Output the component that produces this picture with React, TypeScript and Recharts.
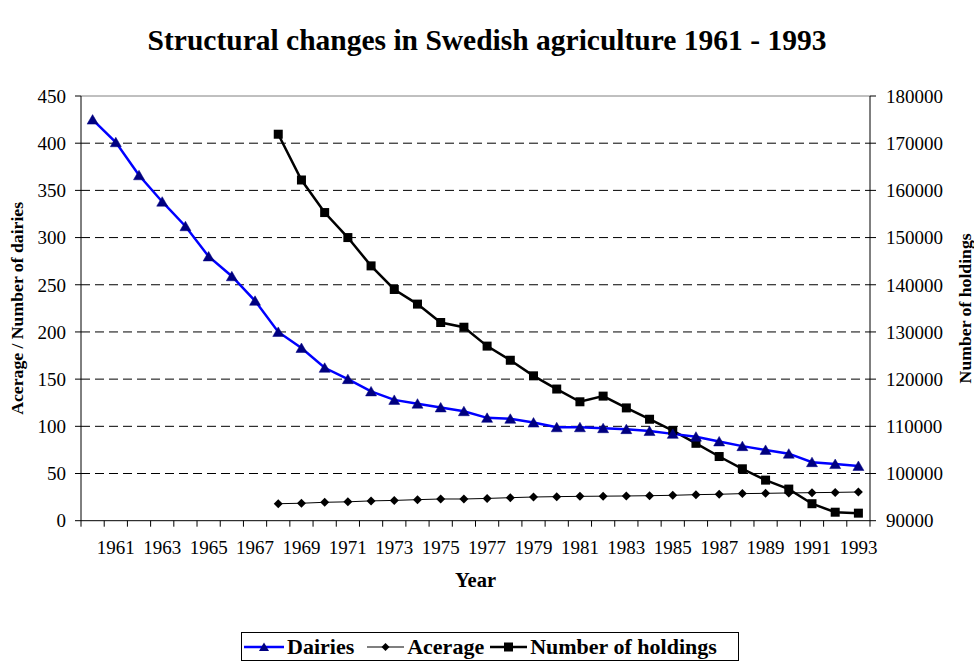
import React from "react";
import {
  LineChart,
  Line,
  XAxis,
  YAxis,
  CartesianGrid,
  ReferenceLine,
} from "recharts";

const years = [
  1960, 1961, 1962, 1963, 1964, 1965, 1966, 1967, 1968, 1969, 1970, 1971,
  1972, 1973, 1974, 1975, 1976, 1977, 1978, 1979, 1980, 1981, 1982, 1983,
  1984, 1985, 1986, 1987, 1988, 1989, 1990, 1991, 1992, 1993,
];

const dairies = [
  425, 401, 366, 338, 312, 280, 259, 233, 200, 183, 162, 150, 137, 128, 124,
  120, 116, 109, 108, 104, 99, 99, 98, 97, 95, 92, 89, 84, 79, 75, 71, 62, 60,
  58,
];

const acerage = [
  null, null, null, null, null, null, null, null, 18, 18.5, 19.5, 20, 21, 21.5,
  22.3, 23, 23, 23.6, 24.4, 25.1, 25.5, 25.8, 26, 26.2, 26.5, 26.9, 27.6, 28,
  28.7, 29, 29.4, 29.7, 30, 30.4,
];

const holdings = [
  null, null, null, null, null, null, null, null, 171900, 162200, 155300,
  150000, 144000, 139000, 135900, 132000, 131000, 127000, 124000, 120700,
  117900, 115200, 116400, 113900, 111500, 109100, 106400, 103600, 101000,
  98600, 96700, 93600, 91800, 91600,
];

const leftTicks = [0, 50, 100, 150, 200, 250, 300, 350, 400, 450];
const leftGrid = [50, 100, 150, 200, 250, 300, 350, 400];
const rightTicks = [
  90000, 100000, 110000, 120000, 130000, 140000, 150000, 160000, 170000,
  180000,
];

const data = years.map((y, i) => ({
  year: y,
  dairies: dairies[i],
  acerage: acerage[i],
  holdings: holdings[i],
}));

const FONT = '"Liberation Serif", "Times New Roman", serif';
const W = 974;
const H = 662;
const HALF_BAND = 11.6;

const XTick = (props: any) => {
  const { x, y, payload, index } = props;
  const half = payload && payload.offset ? payload.offset : HALF_BAND;
  const year = Number(payload.value);
  return (
    <g>
      <line x1={x - half} x2={x - half} y1={y} y2={y + 6} stroke="#000" strokeWidth={1} />
      {index === years.length - 1 && (
        <line x1={x + half} x2={x + half} y1={y} y2={y + 6} stroke="#000" strokeWidth={1} />
      )}
      {year % 2 === 1 && (
        <text
          x={x}
          y={y + 27}
          textAnchor="middle"
          dominantBaseline="central"
          style={{ fontFamily: FONT, fontSize: 19 }}
          fill="#000"
        >
          {year}
        </text>
      )}
    </g>
  );
};

const Triangle = (props: any) => {
  const { cx, cy, index } = props;
  if (cx == null || cy == null) return <g key={`t${index}`} />;
  return (
    <path
      key={`t${index}`}
      d={`M${cx},${cy - 5} L${cx + 5.5},${cy + 4.5} L${cx - 5.5},${cy + 4.5} Z`}
      fill="#000080"
      stroke="#000080"
      strokeWidth={0.5}
    />
  );
};

const Diamond = (props: any) => {
  const { cx, cy, index } = props;
  if (cx == null || cy == null) return <g key={`d${index}`} />;
  return (
    <path
      key={`d${index}`}
      d={`M${cx},${cy - 4.5} L${cx + 4.5},${cy} L${cx},${cy + 4.5} L${cx - 4.5},${cy} Z`}
      fill="#000"
    />
  );
};

const Square = (props: any) => {
  const { cx, cy, index } = props;
  if (cx == null || cy == null) return <g key={`s${index}`} />;
  return <rect key={`s${index}`} x={cx - 4.5} y={cy - 4.5} width={9} height={9} fill="#000" />;
};

const LegendIcon = ({ kind }: { kind: string }) => {
  if (kind === "dairies") {
    return (
      <svg width={40} height={14} style={{ display: "block" }}>
        <line x1={0} x2={40} y1={7} y2={7} stroke="#0000FF" strokeWidth={2.5} />
        <path d="M20,2.5 L25,11 L15,11 Z" fill="#000080" />
      </svg>
    );
  }
  if (kind === "acerage") {
    return (
      <svg width={37} height={14} style={{ display: "block" }}>
        <line x1={0} x2={37} y1={7} y2={7} stroke="#000" strokeWidth={1.2} />
        <path d="M18.5,3 L22.5,7 L18.5,11 L14.5,7 Z" fill="#000" />
      </svg>
    );
  }
  return (
    <svg width={37} height={14} style={{ display: "block" }}>
      <line x1={0} x2={37} y1={7} y2={7} stroke="#000" strokeWidth={2.5} />
      <rect x={14} y={2.5} width={9} height={9} fill="#000" />
    </svg>
  );
};

const legendItems = [
  { key: "dairies", label: "Dairies", gap: 0 },
  { key: "acerage", label: "Acerage", gap: 13 },
  { key: "holdings", label: "Number of holdings", gap: 6 },
];

const axisTitle = (
  text: string,
  dxFromLeft: number,
  rotate: boolean,
  dy: number,
  size: number
) =>
  (p: any) => {
    const vb = p.viewBox;
    const cx = rotate ? vb.x + dxFromLeft : vb.x + vb.width / 2;
    const cy = rotate ? vb.y + vb.height / 2 : vb.y + dy;
    return (
      <text
        x={cx}
        y={cy}
        transform={rotate ? `rotate(-90, ${cx}, ${cy})` : undefined}
        textAnchor="middle"
        dominantBaseline="central"
        style={{ fontFamily: FONT, fontSize: size, fontWeight: "bold" }}
        fill="#000"
      >
        {text}
      </text>
    );
  };

export default function App() {
  return (
    <div
      style={{
        position: "absolute",
        left: 0,
        top: 0,
        width: W,
        height: H,
        overflow: "hidden",
        fontFamily: FONT,
        background: "#fff",
      }}
    >
      <div
        style={{
          position: "absolute",
          left: 0,
          top: 23,
          width: W,
          textAlign: "center",
          fontSize: 29.5,
          fontWeight: "bold",
          lineHeight: "34px",
          color: "#000",
          whiteSpace: "nowrap",
        }}
      >
        Structural changes in Swedish agriculture 1961 - 1993
      </div>
      <LineChart
        width={W}
        height={H}
        data={data}
        margin={{ top: 96, right: 0, bottom: 101.3, left: 0 }}
      >
        <CartesianGrid
          horizontal={true}
          vertical={false}
          horizontalValues={leftGrid}
          yAxisId="left"
          stroke="#000"
          strokeDasharray="9 5"
        />
        <ReferenceLine yAxisId="left" y={450} stroke="#808080" strokeWidth={1} />
        <XAxis
          dataKey="year"
          type="category"
          interval={0}
          height={40}
          padding={{ left: HALF_BAND, right: HALF_BAND }}
          tickLine={false}
          tickSize={0}
          tickMargin={0}
          axisLine={{ stroke: "#000", strokeWidth: 1 }}
          tick={<XTick />}
          label={{ content: axisTitle("Year", 0, false, 59, 20.5) }}
        />
        <YAxis
          yAxisId="left"
          orientation="left"
          width={81}
          domain={[0, 450]}
          ticks={leftTicks}
          interval={0}
          tickSize={6}
          tickMargin={9}
          tickLine={{ stroke: "#000" }}
          axisLine={{ stroke: "#000", strokeWidth: 1 }}
          tick={{ style: { fontFamily: FONT, fontSize: 19 }, fill: "#000" }}
          label={{ content: axisTitle("Acerage / Number of dairies", 17, true, 0, 17.7) }}
        />
        <YAxis
          yAxisId="right"
          orientation="right"
          width={104}
          domain={[90000, 180000]}
          ticks={rightTicks}
          interval={0}
          tickSize={6}
          tickMargin={10}
          tickLine={{ stroke: "#000" }}
          axisLine={{ stroke: "#000", strokeWidth: 1 }}
          tick={{ style: { fontFamily: FONT, fontSize: 19 }, fill: "#000" }}
          label={{ content: axisTitle("Number of holdings", 95, true, 0, 17.7) }}
        />
        <Line
          yAxisId="left"
          type="linear"
          dataKey="acerage"
          stroke="#000"
          strokeWidth={1}
          dot={Diamond}
          activeDot={false}
          isAnimationActive={false}
        />
        <Line
          yAxisId="right"
          type="linear"
          dataKey="holdings"
          stroke="#000"
          strokeWidth={2.5}
          dot={Square}
          activeDot={false}
          isAnimationActive={false}
        />
        <Line
          yAxisId="left"
          type="linear"
          dataKey="dairies"
          stroke="#0000FF"
          strokeWidth={2.5}
          dot={Triangle}
          activeDot={false}
          isAnimationActive={false}
        />
      </LineChart>
      <div
        style={{
          position: "absolute",
          top: 632,
          left: 241,
          width: 494,
          height: 27,
          border: "1px solid #000",
          display: "flex",
          alignItems: "center",
          paddingLeft: 2,
          boxSizing: "content-box",
          fontSize: 22,
          fontWeight: "bold",
          color: "#000",
          whiteSpace: "nowrap",
        }}
      >
        {legendItems.map((it) => (
          <span
            key={it.key}
            style={{
              display: "inline-flex",
              alignItems: "center",
              marginLeft: it.gap,
            }}
          >
            <LegendIcon kind={it.key} />
            <span style={{ marginLeft: 3, lineHeight: "27px" }}>{it.label}</span>
          </span>
        ))}
      </div>
    </div>
  );
}
